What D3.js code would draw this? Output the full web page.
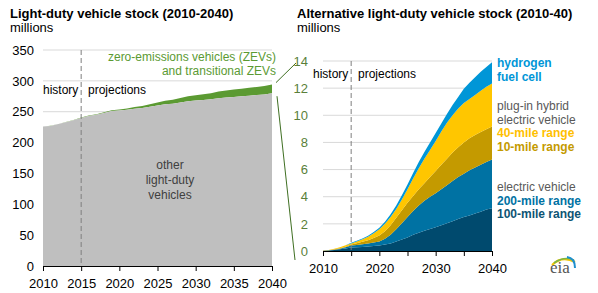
<!DOCTYPE html>
<html>
<head>
<meta charset="utf-8">
<script src="https://d3js.org/d3.v7.min.js"></script>
<style>
  body { margin: 0; background: #fff; }
  svg { font-family: "Liberation Sans", Arial, sans-serif; }
</style>
</head>
<body>
<svg id="chart" width="598" height="293"></svg>
<script>
// ---------- DATA ----------
const years = d3.range(2010, 2041);
// Left panel: other light-duty vehicles (millions)
const otherLDV = [226,227,230,233,236,240,243,245,248,251,252,253,255,256,258,260,262,263,265,267,268,269,270,272,273,274,275,276,277,278,280];
// Right panel series (millions)
const ev100 = [0.02,0.04,0.07,0.12,0.18,0.25,0.28,0.30,0.33,0.36,0.40,0.47,0.55,0.70,0.85,1.00,1.20,1.35,1.50,1.63,1.75,1.90,2.05,2.20,2.35,2.50,2.62,2.77,2.90,3.05,3.15];
const ev200 = [0.00,0.01,0.03,0.05,0.09,0.15,0.17,0.20,0.22,0.26,0.30,0.43,0.65,0.90,1.20,1.50,1.75,2.00,2.20,2.37,2.50,2.65,2.80,2.95,3.10,3.20,3.33,3.38,3.45,3.50,3.60];
const phev10 = [0.00,0.01,0.02,0.03,0.05,0.08,0.13,0.18,0.25,0.33,0.45,0.55,0.70,0.85,0.95,1.05,1.10,1.20,1.30,1.45,1.65,1.80,1.95,2.10,2.20,2.30,2.35,2.40,2.42,2.42,2.42];
const phev40 = [0.01,0.02,0.04,0.07,0.10,0.07,0.12,0.18,0.25,0.35,0.45,0.55,0.60,0.65,0.80,1.00,1.30,1.55,1.80,2.00,2.20,2.45,2.65,2.75,2.85,2.90,2.90,2.95,3.03,3.13,3.18];
const hydrogen = [0.00,0.00,0.00,0.00,0.01,0.05,0.05,0.06,0.07,0.10,0.12,0.15,0.20,0.25,0.30,0.35,0.40,0.45,0.50,0.55,0.60,0.60,0.65,0.75,0.85,1.05,1.20,1.30,1.40,1.45,1.55];

const leftYTicks = [0,50,100,150,200,250,300,350];
const leftXTicks = [2010,2015,2020,2025,2030,2035,2040];
const rightYTicks = [0,2,4,6,8,10,12,14];
const rightXTicks = [2010,2015,2020,2025,2030,2035,2040];
const rightXLabels = [2010,2020,2030,2040];

// ---------- COLORS ----------
const C = {
  grey: "#bfbfbf", green: "#5b9a32", grid: "#d9d9d9",
  ev100: "#004a6e", ev200: "#0072a3", phev10: "#c49a00", phev40: "#ffc600", h2: "#0096d7",
  axisGreen: "#5a7f3a", text: "#595959"
};

const svg = d3.select("#chart");

// ---------- LEFT PANEL ----------
const xL = d3.scaleLinear().domain([2010, 2040]).range([43, 272]);
const yL = d3.scaleLinear().domain([0, 350]).range([266, 50]);

const rows = years.map((yr, i) => ({
  year: yr, other: otherLDV[i],
  ev100: ev100[i], ev200: ev200[i], phev10: phev10[i], phev40: phev40[i], h2: hydrogen[i]
}));
rows.forEach(r => { r.zev = r.ev100 + r.ev200 + r.phev10 + r.phev40 + r.h2; });

const gL = svg.append("g");
gL.selectAll("line.grid").data(leftYTicks.filter(d => d > 0)).join("line")
  .attr("x1", xL(2010)).attr("x2", xL(2040))
  .attr("y1", d => yL(d)).attr("y2", d => yL(d))
  .attr("stroke", C.grid).attr("stroke-width", 1);

gL.append("path").datum(rows)
  .attr("fill", C.green)
  .attr("d", d3.area().x(d => xL(d.year)).y0(d => yL(d.other)).y1(d => yL(d.other + d.zev)));
gL.append("path").datum(rows)
  .attr("fill", C.grey)
  .attr("d", d3.area().x(d => xL(d.year)).y0(yL(0)).y1(d => yL(d.other)));

gL.append("line").attr("x1", xL(2015)).attr("x2", xL(2015))
  .attr("y1", yL(350)).attr("y2", yL(0))
  .attr("stroke", "#7f7f7f").attr("stroke-dasharray", "5,3").attr("stroke-width", 1);

const axL = gL.append("g").attr("transform", `translate(0,${yL(0)})`)
  .call(d3.axisBottom(xL).tickValues(leftXTicks).tickFormat(d3.format("d")).tickSize(5).tickSizeOuter(0));
axL.select(".domain").attr("stroke", "#000");
axL.selectAll(".tick line").attr("stroke", "#000");
axL.selectAll(".tick text").attr("font-size", 13).attr("fill", "#000").attr("dy", "1.05em")
  .attr("font-family", "Liberation Sans, Arial, sans-serif");

const ayL = gL.append("g").attr("transform", `translate(${xL(2010) - 6},0)`)
  .call(d3.axisLeft(yL).tickValues(leftYTicks).tickSize(0));
ayL.select(".domain").remove();
ayL.selectAll(".tick text").attr("font-size", 13).attr("fill", "#000")
  .attr("font-family", "Liberation Sans, Arial, sans-serif");

gL.append("text").attr("x", 43).attr("y", 94).attr("font-size", 12).attr("fill", "#000").text("history");
gL.append("text").attr("x", 88).attr("y", 94).attr("font-size", 12).attr("fill", "#000").text("projections");

const zevLbl = gL.append("text").attr("text-anchor", "end").attr("font-size", 12).attr("fill", C.green);
zevLbl.append("tspan").attr("x", 276).attr("y", 61).text("zero-emissions vehicles (ZEVs)");
zevLbl.append("tspan").attr("x", 276).attr("y", 75).text("and transitional ZEVs");

const othLbl = gL.append("text").attr("text-anchor", "middle").attr("font-size", 12).attr("fill", "#404040");
["other", "light-duty", "vehicles"].forEach((t, i) =>
  othLbl.append("tspan").attr("x", 170).attr("y", 169 + i * 15).text(t));

svg.append("text").attr("x", 10).attr("y", 18).attr("font-size", 13).attr("font-weight", "bold").text("Light-duty vehicle stock (2010-2040)");
svg.append("text").attr("x", 10).attr("y", 32).attr("font-size", 13).text("millions");

// ---------- RIGHT PANEL ----------
const xR = d3.scaleLinear().domain([2010, 2040]).range([323, 492]);
const yR = d3.scaleLinear().domain([0, 14]).range([251, 61]);
const gR = svg.append("g");

gR.selectAll("line.grid").data(rightYTicks.filter(d => d > 0)).join("line")
  .attr("x1", xR(2010)).attr("x2", xR(2040))
  .attr("y1", d => yR(d)).attr("y2", d => yR(d))
  .attr("stroke", C.grid).attr("stroke-width", 1);

const keys = ["ev100", "ev200", "phev10", "phev40", "h2"];
const stacked = d3.stack().keys(keys)(rows);
gR.selectAll("path.layer").data(stacked).join("path")
  .attr("fill", d => C[d.key])
  .attr("d", d3.area().x(d => xR(d.data.year)).y0(d => yR(d[0])).y1(d => yR(d[1])));

gR.append("line").attr("x1", xR(2015)).attr("x2", xR(2015))
  .attr("y1", yR(14)).attr("y2", yR(0))
  .attr("stroke", "#7f7f7f").attr("stroke-dasharray", "5,3").attr("stroke-width", 1);

const axR = gR.append("g").attr("transform", `translate(0,${yR(0)})`)
  .call(d3.axisBottom(xR).tickValues(rightXTicks)
    .tickFormat(d => rightXLabels.includes(d) ? d3.format("d")(d) : "").tickSize(5).tickSizeOuter(0));
axR.select(".domain").attr("stroke", "#000");
axR.selectAll(".tick line").attr("stroke", "#000");
axR.selectAll(".tick text").attr("font-size", 13).attr("fill", "#000").attr("dy", "1.05em")
  .attr("font-family", "Liberation Sans, Arial, sans-serif");

const ayR = gR.append("g").attr("transform", `translate(${xR(2010) - 12},0)`)
  .call(d3.axisLeft(yR).tickValues(rightYTicks).tickSize(0));
ayR.select(".domain").remove();
ayR.selectAll(".tick text").attr("font-size", 13).attr("fill", C.axisGreen)
  .attr("font-family", "Liberation Sans, Arial, sans-serif");

gR.append("text").attr("x", 313).attr("y", 78).attr("font-size", 12).attr("fill", "#000").text("history");
gR.append("text").attr("x", 358).attr("y", 78).attr("font-size", 12).attr("fill", "#000").text("projections");

svg.append("text").attr("x", 297).attr("y", 18).attr("font-size", 13).attr("font-weight", "bold").text("Alternative light-duty vehicle stock (2010-40)");
svg.append("text").attr("x", 297).attr("y", 32).attr("font-size", 13).text("millions");

// legend labels
const leg = [
  { t: "hydrogen", y: 67, c: C.h2, b: true },
  { t: "fuel cell", y: 81, c: C.h2, b: true },
  { t: "plug-in hybrid", y: 110, c: C.text, b: false },
  { t: "electric vehicle", y: 124, c: C.text, b: false },
  { t: "40-mile range", y: 137, c: "#ffc000", b: true },
  { t: "10-mile range", y: 151, c: C.phev10, b: true },
  { t: "electric vehicle", y: 191, c: C.text, b: false },
  { t: "200-mile range", y: 205, c: C.ev200, b: true },
  { t: "100-mile range", y: 218, c: "#0d5474", b: true }
];
gR.selectAll("text.leg").data(leg).join("text")
  .attr("x", 497).attr("y", d => d.y).attr("font-size", 12)
  .attr("font-weight", d => d.b ? "bold" : "normal").attr("fill", d => d.c).text(d => d.t);

// connector lines
const last = rows[rows.length - 1];
svg.append("line").attr("x1", xL(2040) + 4).attr("y1", yL(last.other + last.zev) - 2)
  .attr("x2", xR(2010) - 27).attr("y2", yR(14) + 2).attr("stroke", "#3f6f22").attr("stroke-width", 1);
svg.append("line").attr("x1", xL(2040) + 5).attr("y1", yL(last.other) + 3)
  .attr("x2", xR(2010) - 28).attr("y2", yR(0) + 9).attr("stroke", "#3f6f22").attr("stroke-width", 1);

// eia logo
const logo = svg.append("g").attr("transform", "translate(548,256)");
logo.append("path").attr("d", "M4,9 Q14,-1 27,6").attr("fill", "none").attr("stroke", "#f2c500").attr("stroke-width", 2);
logo.append("path").attr("d", "M6,7 Q16,0 26,4").attr("fill", "none").attr("stroke", "#7ab648").attr("stroke-width", 1.6);
logo.append("path").attr("d", "M19,1 Q27,2 27,12").attr("fill", "none").attr("stroke", "#1f8fce").attr("stroke-width", 2);
logo.append("text").attr("x", 2).attr("y", 17).attr("font-family", "Liberation Serif, DejaVu Serif, serif")
  .attr("font-size", 17).attr("fill", "#555").text("eia");
</script>
</body>
</html>
